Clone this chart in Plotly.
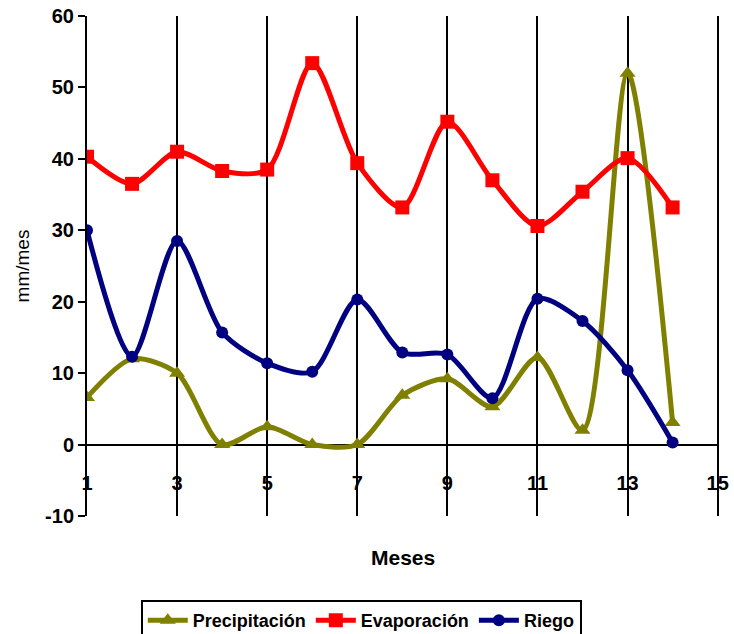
import plotly.graph_objects as go

meses = list(range(1, 15))
precipitacion = [6.6, 12.0, 10.0, 0.0, 2.5, 0.0, 0.0, 6.9, 9.2, 5.3, 12.2, 2.0, 52.0, 3.1]
evaporacion = [40.3, 36.5, 41.0, 38.3, 38.5, 53.4, 39.4, 33.2, 45.2, 37.0, 30.6, 35.4, 40.1, 33.2]
riego = [30.0, 12.3, 28.5, 15.7, 11.4, 10.2, 20.3, 12.9, 12.6, 6.5, 20.4, 17.3, 10.4, 0.3]

x_ticks = [1, 3, 5, 7, 9, 11, 13, 15]
y_ticks = [-10, 0, 10, 20, 30, 40, 50, 60]
y_ticklabels = ["-10", "0", "10", "20", "30", "40", "50", "60"]

FONT = "Liberation Sans, Arial, sans-serif"
SMOOTH = 0.8

fig = go.Figure()
fig.add_trace(go.Scatter(
    x=meses, y=precipitacion, name="Precipitación", mode="lines+markers",
    line=dict(color="#808000", width=5, shape="spline", smoothing=SMOOTH),
    marker=dict(symbol="triangle-up", size=14, color="#808000"),
))
fig.add_trace(go.Scatter(
    x=meses, y=evaporacion, name="Evaporación", mode="lines+markers",
    line=dict(color="#FF0000", width=5, shape="spline", smoothing=SMOOTH),
    marker=dict(symbol="square", size=14, color="#FF0000"),
))
fig.add_trace(go.Scatter(
    x=meses, y=riego, name="Riego", mode="lines+markers",
    line=dict(color="#000080", width=5, shape="spline", smoothing=SMOOTH),
    marker=dict(symbol="circle", size=12, color="#000080"),
))

fig.update_layout(
    width=734, height=634,
    margin=dict(l=87, r=15, t=16, b=118, autoexpand=False),
    plot_bgcolor="white", paper_bgcolor="white",
    font=dict(family=FONT, color="black"),
    showlegend=True,
    legend=dict(
        orientation="h", x=0.434, xanchor="center",
        yref="container", y=34 / 634, yanchor="top",
        bordercolor="black", borderwidth=2,
        font=dict(family=FONT, size=18, color="black", weight="bold"),
        itemwidth=40, tracegroupgap=0,
    ),
    xaxis=dict(
        range=[1, 15.03], tickvals=x_ticks, ticktext=[str(v) for v in x_ticks],
        showgrid=True, gridcolor="black", gridwidth=2,
        showline=False, zeroline=False, ticks="",
        anchor="free", position=0.094,
        tickfont=dict(family=FONT, size=20, color="black", weight="bold"),
        automargin=False,
    ),
    yaxis=dict(
        range=[-10, 60], tickvals=y_ticks, ticktext=y_ticklabels,
        showgrid=False, showline=True, linecolor="black", linewidth=2,
        ticks="outside", ticklen=7, tickwidth=2, tickcolor="black",
        zeroline=True, zerolinecolor="black", zerolinewidth=2,
        tickfont=dict(family=FONT, size=20, color="black", weight="bold"),
        title=dict(text="mm/mes", font=dict(family=FONT, size=19, color="black"), standoff=10),
        automargin=False,
    ),
    annotations=[dict(
        text="Meses", xref="paper", yref="paper", x=0.5, y=-0.082,
        xanchor="center", yanchor="middle", showarrow=False,
        font=dict(family=FONT, size=21, color="black", weight="bold"),
    )],
)

fig.write_html("out.html")
